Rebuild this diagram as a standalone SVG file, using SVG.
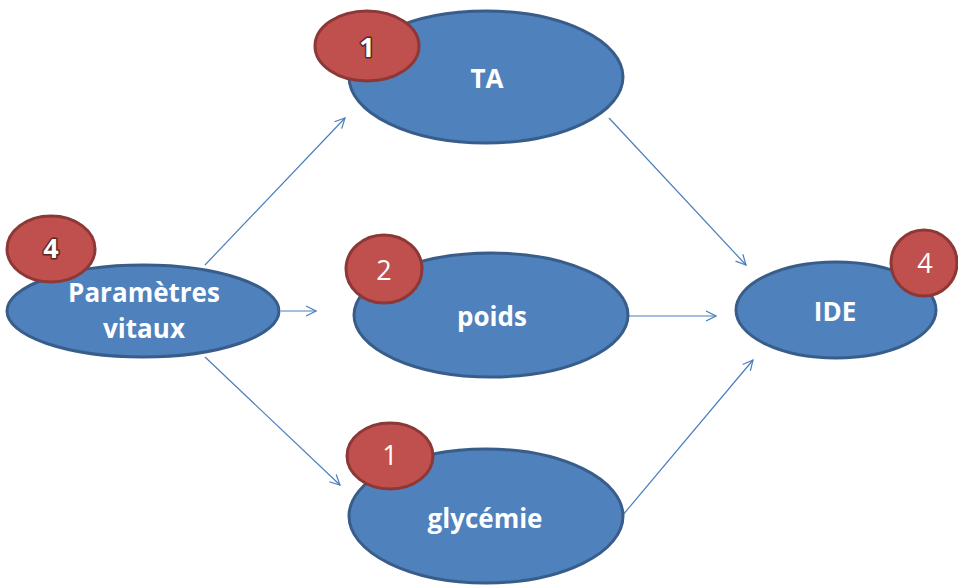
<svg xmlns="http://www.w3.org/2000/svg" width="958" height="585" viewBox="0 0 958 585">
<defs>
<marker id="arr" viewBox="0 0 12 12" refX="11" refY="6" markerWidth="12" markerHeight="12" markerUnits="userSpaceOnUse" orient="auto">
<path d="M1,1 L11,6 L1,11" fill="none" stroke="#4A7EBB" stroke-width="1.2"/>
</marker>
<style>
.node{fill:#4F81BD;stroke:#385D8A;stroke-width:3}
.badge{fill:#C0504D;stroke:#8C3836;stroke-width:3}
.lbl{font-family:"Open Sans","Liberation Sans",sans-serif;font-weight:bold;font-size:26px;fill:#FFFFFF;text-anchor:middle}
.num{font-family:"Open Sans","Liberation Sans",sans-serif;font-size:27px;fill:#FFFFFF;text-anchor:middle}
.numb{font-family:"Open Sans","Liberation Sans",sans-serif;font-weight:bold;font-size:27px;fill:#FFFFFF;text-anchor:middle;stroke:#5A2624;stroke-width:3;paint-order:stroke;stroke-linejoin:round}
.con{stroke:#4A7EBB;stroke-width:1.2;fill:none;marker-end:url(#arr)}
</style>
</defs>
<g id="connectors">
<line class="con" x1="205" y1="265" x2="345" y2="118"/>
<line class="con" x1="281" y1="311" x2="316" y2="311"/>
<line class="con" x1="205" y1="357" x2="340" y2="485"/>
<line class="con" x1="609" y1="118" x2="746" y2="265"/>
<line class="con" x1="629" y1="316" x2="716" y2="316"/>
<line class="con" x1="622" y1="516" x2="753" y2="360"/>
</g>
<g id="node-ta">
<ellipse class="node" cx="486" cy="77" rx="137" ry="66"/>
<text class="lbl" x="487" y="88">TA</text>
</g>
<g id="badge-ta">
<ellipse class="badge" cx="367" cy="46" rx="52" ry="35"/>
<text class="numb" x="367" y="57">1</text>
</g>
<g id="node-pv">
<ellipse class="node" cx="143" cy="311" rx="136" ry="46"/>
<text class="lbl" x="144" y="302">Paramètres</text>
<text class="lbl" x="144" y="338">vitaux</text>
</g>
<g id="badge-pv">
<ellipse class="badge" cx="51" cy="249" rx="44" ry="33"/>
<text class="numb" x="51" y="258">4</text>
</g>
<g id="node-poids">
<ellipse class="node" cx="491" cy="315" rx="137" ry="62"/>
<text class="lbl" x="492" y="326">poids</text>
</g>
<g id="badge-poids">
<ellipse class="badge" cx="384" cy="269" rx="38" ry="34"/>
<text class="num" x="384" y="280">2</text>
</g>
<g id="node-ide">
<ellipse class="node" cx="836" cy="310" rx="100" ry="48"/>
<text class="lbl" x="835" y="321">IDE</text>
</g>
<g id="badge-ide">
<ellipse class="badge" cx="924" cy="263" rx="33" ry="33"/>
<text class="num" x="925" y="273">4</text>
</g>
<g id="node-glyc">
<ellipse class="node" cx="486" cy="516" rx="137" ry="67"/>
<text class="lbl" x="485" y="528">glycémie</text>
</g>
<g id="badge-glyc">
<ellipse class="badge" cx="390" cy="456" rx="43" ry="33"/>
<text class="num" x="390" y="465">1</text>
</g>
</svg>
